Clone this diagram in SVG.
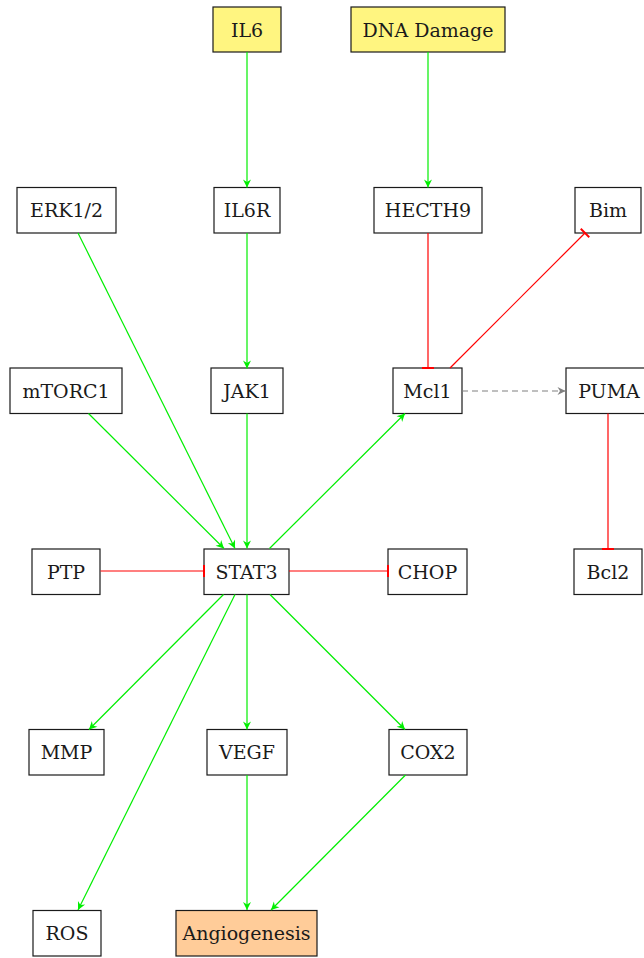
<svg xmlns="http://www.w3.org/2000/svg" width="644" height="958" viewBox="0 0 644 958">
<style>
.box{fill:#ffffff;stroke:#1a1a1a;stroke-width:1.2}
.yel{fill:#fff580}
.org{fill:#ffcc99}
.lbl{font-family:"DejaVu Serif","Liberation Serif",serif;font-size:19px;fill:#1a1a1a;text-anchor:middle}
.act{stroke:#00ee00;stroke-width:1.2;fill:none;marker-end:url(#arr)}
.inh{stroke:#ff0000;stroke-width:1.2;fill:none;marker-end:url(#bar)}
.dash{stroke:#808080;stroke-width:1.2;fill:none;stroke-dasharray:6 4;marker-end:url(#garr)}
</style>
<defs>
<marker id="arr" markerUnits="userSpaceOnUse" markerWidth="12" markerHeight="12" viewBox="-10 -6 12 12" refX="0" refY="0" orient="auto">
<path d="M0,0 L-8,-4 L-5.5,0 L-8,4 Z" fill="#00ee00"/>
</marker>
<marker id="garr" markerUnits="userSpaceOnUse" markerWidth="12" markerHeight="12" viewBox="-10 -6 12 12" refX="0" refY="0" orient="auto">
<path d="M0,0 L-8,-4 L-5.5,0 L-8,4 Z" fill="#808080"/>
</marker>
<marker id="bar" markerUnits="userSpaceOnUse" markerWidth="16" markerHeight="16" viewBox="-8 -8 16 16" refX="0" refY="0" orient="auto">
<path d="M0,-6 L0,6" stroke="#ff0000" stroke-width="2"/>
</marker>
</defs>
<g id="IL6"><rect class="box yel" x="213" y="7" width="68" height="45"/><text class="lbl" x="247" y="36.5">IL6</text></g>
<g id="DNADamage"><rect class="box yel" x="351" y="7" width="154" height="45"/><text class="lbl" x="428" y="36.5">DNA Damage</text></g>
<g id="ERK12"><rect class="box" x="17" y="187.5" width="99" height="45.5"/><text class="lbl" x="66.5" y="217">ERK1/2</text></g>
<g id="IL6R"><rect class="box" x="214" y="187.5" width="66" height="45.5"/><text class="lbl" x="247" y="217">IL6R</text></g>
<g id="HECTH9"><rect class="box" x="374" y="187.5" width="108" height="45.5"/><text class="lbl" x="428" y="217">HECTH9</text></g>
<g id="Bim"><rect class="box" x="575" y="187.5" width="66" height="45.5"/><text class="lbl" x="608" y="217">Bim</text></g>
<g id="mTORC1"><rect class="box" x="10" y="368" width="112" height="45.5"/><text class="lbl" x="66" y="398">mTORC1</text></g>
<g id="JAK1"><rect class="box" x="211" y="368" width="72" height="45.5"/><text class="lbl" x="247" y="398">JAK1</text></g>
<g id="Mcl1"><rect class="box" x="393" y="368" width="69" height="45.5"/><text class="lbl" x="427.5" y="398">Mcl1</text></g>
<g id="PUMA"><rect class="box" x="566" y="368" width="86" height="45.5"/><text class="lbl" x="609" y="398">PUMA</text></g>
<g id="PTP"><rect class="box" x="32" y="549" width="68" height="45.5"/><text class="lbl" x="66" y="578.5">PTP</text></g>
<g id="STAT3"><rect class="box" x="204" y="549" width="85" height="45.5"/><text class="lbl" x="246.5" y="578.5">STAT3</text></g>
<g id="CHOP"><rect class="box" x="388" y="549" width="79" height="45.5"/><text class="lbl" x="427.5" y="578.5">CHOP</text></g>
<g id="Bcl2"><rect class="box" x="574" y="549" width="68" height="45.5"/><text class="lbl" x="608" y="578.5">Bcl2</text></g>
<g id="MMP"><rect class="box" x="29" y="729.5" width="75" height="45.5"/><text class="lbl" x="66.5" y="759">MMP</text></g>
<g id="VEGF"><rect class="box" x="207" y="729.5" width="80" height="45.5"/><text class="lbl" x="247" y="759">VEGF</text></g>
<g id="COX2"><rect class="box" x="389" y="729.5" width="78" height="45.5"/><text class="lbl" x="428" y="759">COX2</text></g>
<g id="ROS"><rect class="box" x="33" y="910.5" width="68" height="45.5"/><text class="lbl" x="67" y="940">ROS</text></g>
<g id="Angiogenesis"><rect class="box org" x="176" y="910.5" width="141" height="45.5"/><text class="lbl" x="246.5" y="940">Angiogenesis</text></g>
<g id="connectors">
<line class="act" x1="247" y1="52" x2="247" y2="187.5"/>
<line class="act" x1="428" y1="52" x2="428" y2="187.5"/>
<line class="act" x1="247" y1="233" x2="247" y2="368.5"/>
<line class="inh" x1="428" y1="233" x2="428" y2="368"/>
<line class="inh" x1="450" y1="368" x2="585" y2="233"/>
<line class="dash" x1="462" y1="391" x2="565.5" y2="391"/>
<line class="inh" x1="608" y1="413.5" x2="608" y2="549"/>
<line class="act" x1="78" y1="233" x2="235" y2="548.5"/>
<line class="act" x1="88.5" y1="413.5" x2="224" y2="548.5"/>
<line class="act" x1="247" y1="413.5" x2="247" y2="548.5"/>
<line class="act" x1="269.5" y1="548.5" x2="405" y2="413.5"/>
<line class="inh" x1="100.5" y1="571" x2="204" y2="571"/>
<line class="inh" x1="289" y1="571" x2="388" y2="571"/>
<line class="act" x1="223.5" y1="594.5" x2="89" y2="729.5"/>
<line class="act" x1="247" y1="594.5" x2="247" y2="729.5"/>
<line class="act" x1="235" y1="594.5" x2="78" y2="910"/>
<line class="act" x1="270" y1="594.5" x2="405" y2="729.5"/>
<line class="act" x1="247" y1="775" x2="247" y2="910"/>
<line class="act" x1="405.5" y1="775" x2="271" y2="910"/>
</g>
</svg>
